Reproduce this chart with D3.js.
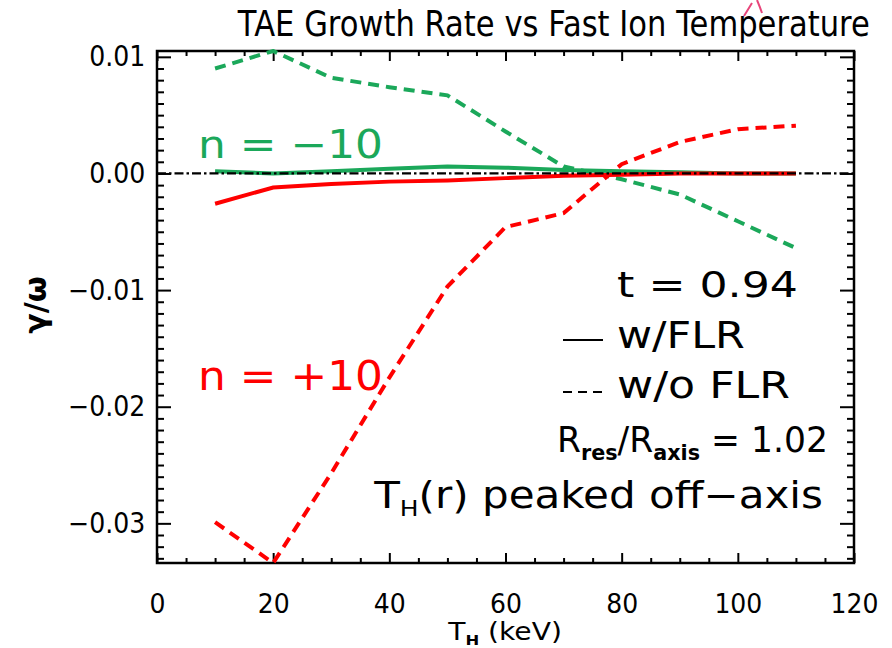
<!DOCTYPE html>
<html>
<head>
<meta charset="utf-8">
<script src="https://cdn.jsdelivr.net/npm/d3@7"></script>
<style>
  html, body { margin: 0; padding: 0; background: #fff; }
  svg { display: block; font-family: "DejaVu Sans", sans-serif; }
</style>
</head>
<body>
<svg id="chart" width="892" height="648"></svg>
<script>
// ---- data ----
const tempKeV        = [10, 20, 30, 40, 50, 60, 70, 80, 90, 100, 110];
const nMinus10_FLR   = [0.0002, 0.0000, 0.0002, 0.0004, 0.0006, 0.0005, 0.0003, 0.0002, 0.0001, 0.0000, 0.0000];
const nMinus10_noFLR = [0.0090, 0.0105, 0.0082, 0.0074, 0.0067, 0.0036, 0.0006, -0.0005, -0.0018, -0.0041, -0.0064];
const nPlus10_FLR    = [-0.0026, -0.0012, -0.0009, -0.0007, -0.0006, -0.0004, -0.0002, -0.0001, 0.0000, 0.0000, 0.0000];
const nPlus10_noFLR  = [-0.0299, -0.0334, -0.0257, -0.0175, -0.0097, -0.0046, -0.0034, 0.0008, 0.0027, 0.0038, 0.0041];

const xTicks      = [0, 20, 40, 60, 80, 100, 120];
const xTickLabels = ["0", "20", "40", "60", "80", "100", "120"];
const yTicks      = [0.01, 0.00, -0.01, -0.02, -0.03];
const yTickLabels = ["0.01", "0.00", "\u22120.01", "\u22120.02", "\u22120.03"];
const xDomain = [0, 120];
const yDomain = [-0.0334, 0.0105];

// ---- layout ----
const L = 157, R = 854, T = 51, B = 563;
const GREEN = "#1ba85a", RED = "#ff0000";

const svg = d3.select("#chart");
const x = d3.scaleLinear().domain(xDomain).range([L, R]);
const y = d3.scaleLinear().domain(yDomain).range([B, T]);

// minor tick values
const xMinor = d3.range(0, 120.001, 5).filter(v => v % 20 !== 0);
const yMinor = d3.range(-33, 11, 1).map(v => v / 1000).filter(v => Math.abs(Math.round(v * 1000)) % 10 !== 0);

const axStyle = g => {
  g.select(".domain").remove();
  g.selectAll(".tick line").attr("stroke", "#000").attr("stroke-width", 2);
  g.selectAll("text").attr("fill", "#000").attr("font-family", "DejaVu Sans, sans-serif");
};

// bottom axis
svg.append("g").attr("transform", `translate(0,${B})`)
  .call(d3.axisBottom(x).tickValues(xTicks).tickFormat((d, i) => xTickLabels[i]).tickSizeInner(-10).tickSizeOuter(0).tickPadding(31))
  .call(axStyle).call(g => g.selectAll("text").attr("font-size", 27).attr("transform", "scale(0.93,1)"));
svg.append("g").attr("transform", `translate(0,${B})`)
  .call(d3.axisBottom(x).tickValues(xMinor).tickFormat("").tickSizeInner(-5).tickSizeOuter(0)).call(axStyle);
// top axis
svg.append("g").attr("transform", `translate(0,${T})`)
  .call(d3.axisTop(x).tickValues(xTicks).tickFormat("").tickSizeInner(-10).tickSizeOuter(0)).call(axStyle);
svg.append("g").attr("transform", `translate(0,${T})`)
  .call(d3.axisTop(x).tickValues(xMinor).tickFormat("").tickSizeInner(-5).tickSizeOuter(0)).call(axStyle);
// left axis
svg.append("g").attr("transform", `translate(${L},0)`)
  .call(d3.axisLeft(y).tickValues(yTicks).tickFormat((d, i) => yTickLabels[i]).tickSizeInner(-14).tickSizeOuter(0).tickPadding(13))
  .call(axStyle).call(g => g.selectAll("text").attr("font-size", 28).attr("transform", "scale(0.9,1)"));
svg.append("g").attr("transform", `translate(${L},0)`)
  .call(d3.axisLeft(y).tickValues(yMinor).tickFormat("").tickSizeInner(-7).tickSizeOuter(0)).call(axStyle);
// right axis
svg.append("g").attr("transform", `translate(${R},0)`)
  .call(d3.axisRight(y).tickValues(yTicks).tickFormat("").tickSizeInner(-14).tickSizeOuter(0)).call(axStyle);
svg.append("g").attr("transform", `translate(${R},0)`)
  .call(d3.axisRight(y).tickValues(yMinor).tickFormat("").tickSizeInner(-7).tickSizeOuter(0)).call(axStyle);

// frame
svg.append("rect").attr("x", L).attr("y", T).attr("width", R - L).attr("height", B - T)
  .attr("fill", "none").attr("stroke", "#000").attr("stroke-width", 2.5);

// clip
svg.append("clipPath").attr("id", "plotclip").append("rect")
  .attr("x", L).attr("y", T - 2).attr("width", R - L).attr("height", B - T + 4);

const line = d3.line().x((d, i) => x(tempKeV[i])).y(d => y(d));
const plot = svg.append("g").attr("clip-path", "url(#plotclip)");

const series = [
  { v: nMinus10_noFLR, c: GREEN, dash: "11,7" },
  { v: nPlus10_noFLR,  c: RED,   dash: "11,7" },
  { v: nMinus10_FLR,   c: GREEN, dash: null },
  { v: nPlus10_FLR,    c: RED,   dash: null }
];
series.forEach(s => {
  plot.append("path").datum(s.v).attr("d", line)
    .attr("fill", "none").attr("stroke", s.c).attr("stroke-width", 4)
    .attr("stroke-dasharray", s.dash);
});

// zero line (dash-dot)
plot.append("line").attr("x1", x(xDomain[0])).attr("x2", x(xDomain[1]))
  .attr("y1", y(0)).attr("y2", y(0))
  .attr("stroke", "#000").attr("stroke-width", 2.2).attr("stroke-dasharray", "9,3,2.5,3");

// ---- text helpers ----
function fitText(g, left, right) {
  const bb = g.node().getBBox();
  const s = (right - left) / bb.width;
  g.attr("transform", `translate(${left},0) scale(${s},1) translate(${-bb.x},0)`);
}
function addText(str, left, right, baseline, size, color) {
  const g = svg.append("g");
  g.append("text").attr("x", 0).attr("y", baseline).attr("font-size", size)
    .attr("fill", color || "#000").text(str);
  fitText(g, left, right);
  return g;
}

// title
addText("TAE Growth Rate vs Fast Ion Temperature", 237, 870, 36, 35);

// series labels
addText("n = \u221210", 198, 383, 158, 39, GREEN);
addText("n = +10", 198, 383, 390, 40, RED);

// annotations
addText("t = 0.94", 617, 798, 297, 36);
addText("w/FLR", 617, 745, 348, 37);
addText("w/o FLR", 617, 790, 398, 37);

svg.append("line").attr("x1", 563).attr("x2", 603).attr("y1", 340).attr("y2", 340)
  .attr("stroke", "#000").attr("stroke-width", 2);
svg.append("line").attr("x1", 563).attr("x2", 603).attr("y1", 392).attr("y2", 392)
  .attr("stroke", "#000").attr("stroke-width", 2).attr("stroke-dasharray", "9,6");

// R_res / R_axis = 1.02
{
  const g = svg.append("g");
  const t = g.append("text").attr("x", 0).attr("y", 452).attr("font-size", 35).attr("fill", "#000");
  t.append("tspan").text("R");
  t.append("tspan").attr("font-size", 21).attr("font-weight", "bold").attr("dy", 8).text("res");
  t.append("tspan").attr("dy", -8).text("/R");
  t.append("tspan").attr("font-size", 21).attr("font-weight", "bold").attr("dy", 8).text("axis");
  t.append("tspan").attr("dy", -8).text(" = 1.02");
  fitText(g, 557, 828);
}
// T_H(r) peaked off-axis
{
  const g = svg.append("g");
  const t = g.append("text").attr("x", 0).attr("y", 508).attr("font-size", 37).attr("fill", "#000");
  t.append("tspan").text("T");
  t.append("tspan").attr("font-size", 22).attr("dy", 8).text("H");
  t.append("tspan").attr("dy", -8).text("(r) peaked off\u2212axis");
  fitText(g, 373, 823);
}
// x axis title
{
  const g = svg.append("g");
  const t = g.append("text").attr("x", 0).attr("y", 640).attr("font-size", 24).attr("fill", "#000");
  t.append("tspan").text("T");
  t.append("tspan").attr("font-size", 14).attr("font-weight", "bold").attr("dy", 5).text("H");
  t.append("tspan").attr("dy", -5).text(" (keV)");
  fitText(g, 447, 562);
}
// y axis title
svg.append("text").attr("transform", "translate(46,305) rotate(-90)")
  .attr("text-anchor", "middle").attr("font-size", 30).attr("font-weight", "bold")
  .attr("fill", "#000").text("\u03b3/\u03c9");

// small pink stroke at top (slide annotation remnant)
svg.append("path").attr("d", "M744,16 L752,3 M757,0 Q760,7 762,13")
  .attr("fill", "none").attr("stroke", "#e8457a").attr("stroke-width", 2);
</script>
</body>
</html>
